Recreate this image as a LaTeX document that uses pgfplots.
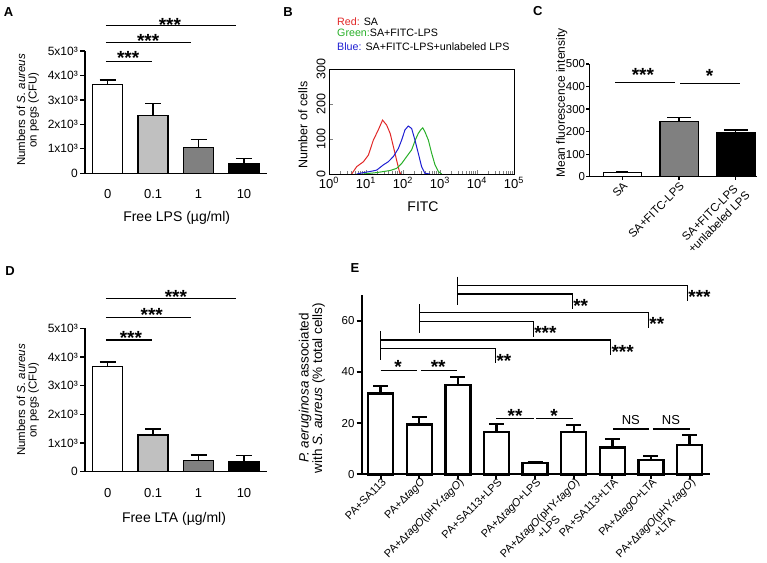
\documentclass[border=0pt]{standalone}
\usepackage{fontspec}
\setmainfont{Liberation Sans}
\usepackage{pgfplots}
\pgfplotsset{compat=1.18}

\definecolor{lgray}{RGB}{192,192,192}
\definecolor{mgray}{RGB}{128,128,128}
\definecolor{cred}{RGB}{225,40,40}
\definecolor{cgreen}{RGB}{40,175,40}
\definecolor{cblue}{RGB}{30,30,210}

\newcommand{\fs}[1]{\fontsize{#1}{#1}\selectfont}

\pgfplotsset{
  gp/.style={scale only axis, anchor=south west, axis lines=left,
    axis line style={-, line width=1.3pt}, tick style={black, line width=1.3pt},
    tick align=outside, major tick length=5pt, ymin=0, clip=false, ybar,
    enlargelimits=false, /pgf/number format/assume math mode=true},
  bar/.style 2 args={ybar, bar shift=0pt, draw=black, line width=#1,
    error bars/y dir=plus, error bars/y explicit, error bars/error mark=|,
    error bars/error bar style={line width=#1, black},
    error bars/error mark options={line width=#1, black, mark size=#2}},
}
\tikzset{
  st/.style={font=\bfseries\fs{19}, anchor=base, yshift=-10.5pt, inner sep=0pt},
  stw/.style={font=\bfseries\fs{19}, anchor=base west, yshift=-10.5pt, xshift=1pt, inner sep=0pt},
  sig/.style={line width=1.2pt},
}

\begin{document}
\begin{tikzpicture}[x=1pt,y=1pt]
\useasboundingbox (0,0) rectangle (767,562);

% ---------- A ----------
\begin{axis}[gp, at={(85pt,388.7pt)}, width=181.7pt, height=122.3pt,
  xmin=-0.5, xmax=3.5, ymax=5000, bar width=30pt,
  xtick={0,1,2,3}, xticklabels={0,0.1,1,10}, xtick style={draw=none},
  ytick={0,1000,2000,3000,4000,5000},
  yticklabels={0,1x10³,2x10³,3x10³,4x10³,5x10³},
  xticklabel style={font=\fs{13}, yshift=-8pt}, yticklabel style={font=\fs{12}, inner sep=2pt}]
\addplot[bar={1.3pt}{8pt}, fill=white] coordinates {(0,3635) +- (0,176)};
\addplot[bar={1.3pt}{8pt}, fill=lgray] coordinates {(1,2377) +- (0,480)};
\addplot[bar={1.3pt}{8pt}, fill=mgray] coordinates {(2,1053) +- (0,327)};
\addplot[bar={1.3pt}{8pt}, fill=black] coordinates {(3,397) +- (0,205)};
\draw[sig] (-0.04,6034) -- (2.83,6034);
\draw[sig] (-0.04,5356) -- (1.83,5356);
\draw[sig] (-0.04,4562) -- (0.97,4562);
\node[st] at (1.37,6227) {***};
\node[st] at (0.89,5572) {***};
\node[st] at (0.45,4878) {***};
\end{axis}

% ---------- D ----------
\begin{axis}[gp, at={(85pt,90.3pt)}, width=181.7pt, height=143.4pt,
  xmin=-0.5, xmax=3.5, ymax=5000, bar width=30pt,
  xtick={0,1,2,3}, xticklabels={0,0.1,1,10}, xtick style={draw=none},
  ytick={0,1000,2000,3000,4000,5000},
  yticklabels={0,1x10³,2x10³,3x10³,4x10³,5x10³},
  xticklabel style={font=\fs{13}, yshift=-8pt}, yticklabel style={font=\fs{12}, inner sep=2pt}]
\addplot[bar={1.3pt}{8pt}, fill=white] coordinates {(0,3662) +- (0,164)};
\addplot[bar={1.3pt}{8pt}, fill=lgray] coordinates {(1,1282) +- (0,209)};
\addplot[bar={1.3pt}{8pt}, fill=mgray] coordinates {(2,383) +- (0,199)};
\addplot[bar={1.3pt}{8pt}, fill=black] coordinates {(3,341) +- (0,220)};
\draw[sig] (-0.04,6046) -- (2.83,6046);
\draw[sig] (-0.04,5384) -- (1.83,5384);
\draw[sig] (-0.04,4592) -- (0.97,4592);
\node[st] at (1.5,6241) {***};
\node[st] at (0.97,5614) {***};
\node[st] at (0.51,4801) {***};
\end{axis}

% ---------- B ----------
\begin{axis}[scale only axis, anchor=south west, at={(329pt,388pt)},
  width=185pt, height=105pt, xmode=log, xmin=1, xmax=100000, ymin=0, ymax=300,
  enlargelimits=false, axis line style={line width=0.8pt}, tick pos=left,
  xtick={1,10,100,1000,10000,100000},
  xticklabels={10\textsuperscript{0},10\textsuperscript{1},10\textsuperscript{2},10\textsuperscript{3},10\textsuperscript{4},10\textsuperscript{5}},
  ytick={0,100,200,300},
  yticklabel style={rotate=90, anchor=south, font=\fs{12.5}},
  xticklabel style={font=\fs{13}},
  /pgf/number format/assume math mode=true]
\addplot[cred, line width=1pt] coordinates {
  (4.1,0) (5.6,21) (8.5,35) (11.6,54) (15.8,97) (21.5,126) (28,154) (36,140)
  (45,116) (55,78) (67,40) (80,7) (87,0)};
\addplot[cgreen, line width=1pt] coordinates {
  (8.5,0) (19.4,4) (45,10) (67,16) (92,30) (126,50) (171,69) (215,97) (259,116)
  (300,126) (341,132) (390,121) (484,97) (596,59) (733,26) (902,7) (1110,0)};
\addplot[cblue, line width=1pt] coordinates {
  (5.6,0) (8.5,4) (12.8,7) (19.4,11) (29.4,26) (40,35) (55,50) (75,73) (92,97)
  (113,126) (139,137) (171,130) (210,97) (259,59) (318,21) (390,2) (537,0)};
\end{axis}

% ---------- C ----------
\begin{axis}[gp, at={(589.3pt,385.3pt)}, width=167.4pt, height=112.7pt,
  xmin=-0.585, xmax=2.37, ymax=500, bar width=38.5pt, major tick length=3pt,
  xtick={0,1,2}, xticklabels={SA,SA+FITC-LPS,{SA+FITC-LPS\\+unlabeled LPS}},
  ytick={0,100,200,300,400,500},
  xticklabel style={rotate=45, anchor=north east, align=center,
    font=\fontsize{11.5}{13}\selectfont, inner sep=1pt},
  yticklabel style={font=\fs{11.5}, inner sep=1pt}]
\addplot[bar={1.3pt}{6pt}, fill=white] coordinates {(0,18) +- (0,3)};
\addplot[bar={1.3pt}{12pt}, fill=mgray] coordinates {(1,244) +- (0,19)};
\addplot[bar={1.3pt}{12pt}, fill=black] coordinates {(2,197) +- (0,10)};
\draw[sig] (-0.13,419) -- (0.93,419);
\draw[sig] (1.02,415) -- (2.07,415);
\node[st] at (0.36,470) {***};
\node[st] at (1.54,466) {*};
\end{axis}

% ---------- E ----------
\begin{axis}[gp, at={(361.7pt,87.7pt)}, width=348.3pt, height=179.2pt,
  axis line style={-, line width=2pt}, tick style={black, line width=2pt},
  major tick length=5pt, xmin=-0.49, xmax=8.53, ymax=70, bar width=25pt,
  xtick={0,1,2,3,4,5,6,7,8},
  xticklabels={PA+SA113, PA+Δ\textit{tagO}, PA+Δ\textit{tagO}(pHY-\textit{tagO}),
    PA+SA113+LPS, PA+Δ\textit{tagO}+LPS, {PA+Δ\textit{tagO}(pHY-\textit{tagO})\\+LPS},
    PA+SA113+LTA, PA+Δ\textit{tagO}+LTA, {PA+Δ\textit{tagO}(pHY-\textit{tagO})\\+LTA}},
  ytick={0,20,40,60},
  xticklabel style={rotate=45, anchor=north east, align=center,
    font=\fontsize{11}{12.5}\selectfont, inner sep=1pt, xshift=3pt, yshift=2pt},
  yticklabel style={font=\fs{11.5}, inner sep=2pt}]
\addplot[bar={2.4pt}{7.5pt}, fill=white] coordinates {(0,31.6) +- (0,2.9)};
\addplot[bar={2.4pt}{7.5pt}, fill=white] coordinates {(1,19.5) +- (0,3.0)};
\addplot[bar={2.4pt}{7.5pt}, fill=white] coordinates {(2,34.9) +- (0,3.2)};
\addplot[bar={2.4pt}{7.5pt}, fill=white] coordinates {(3,16.6) +- (0,3.0)};
\addplot[bar={2.4pt}{7.5pt}, fill=white] coordinates {(4,4.3) +- (0,0.6)};
\addplot[bar={2.4pt}{7.5pt}, fill=white] coordinates {(5,16.5) +- (0,2.8)};
\addplot[bar={2.4pt}{7.5pt}, fill=white] coordinates {(6,10.4) +- (0,3.3)};
\addplot[bar={2.4pt}{7.5pt}, fill=white] coordinates {(7,5.6) +- (0,1.5)};
\addplot[bar={2.4pt}{7.5pt}, fill=white] coordinates {(8,11.4) +- (0,3.9)};
% pairwise
\draw[sig] (0,40.7) -- (0.95,40.7);
\draw[sig] (1.04,40.7) -- (1.97,40.7);
\node[st] at (0.45,43.5) {*};
\node[st] at (1.49,43.5) {**};
\draw[sig] (3.0,21.9) -- (3.97,21.9);
\draw[sig] (4.02,21.9) -- (4.97,21.9);
\node[st] at (3.48,24.5) {**};
\node[st] at (4.49,24.5) {*};
\draw[sig] (6.03,17.7) -- (6.96,17.7);
\draw[sig] (7.05,17.7) -- (8.0,17.7);
\node[font=\fs{13}, inner sep=0pt] at (6.48,21.2) {NS};
\node[font=\fs{13}, inner sep=0pt] at (7.52,21.2) {NS};
% brackets
\draw[sig] (0,56.0) -- (0,44.7);
\draw[sig] (0,52.5) -- (5.95,52.5) -- (5.95,46.6);
\draw[sig] (0,49.1) -- (2.97,49.1) -- (2.97,43.4);
\node[stw] at (2.97,45.9) {**};
\node[stw] at (5.95,49.2) {***};
\draw[sig] (1,66.4) -- (1,55.1);
\draw[sig] (1,63.1) -- (6.93,63.1) -- (6.93,57.0);
\draw[sig] (1,59.8) -- (3.95,59.8) -- (3.95,53.8);
\node[stw] at (3.95,56.6) {***};
\node[stw] at (6.93,60.3) {**};
\draw[sig] (2,77.2) -- (2,66.1);
\draw[sig] (2,73.7) -- (7.94,73.7) -- (7.94,67.8);
\draw[sig] (2,70.4) -- (4.96,70.4) -- (4.96,64.6);
\node[stw] at (4.96,67.4) {**};
\node[stw] at (7.94,70.9) {***};
\end{axis}

% ---------- labels ----------
\node[rotate=90, align=center, font=\fs{11.5}] at (28,452)
  {\fontsize{11.5}{19}\selectfont Numbers of \textit{S. aureus}\\on pegs (CFU)};
\node[font=\fs{14}] at (176.7,343.7) {Free LPS (µg/ml)};
\node[rotate=90, align=center, font=\fs{11.5}] at (28,162)
  {\fontsize{11.5}{19}\selectfont Numbers of \textit{S. aureus}\\on pegs (CFU)};
\node[font=\fs{14}] at (174,43) {Free LTA (µg/ml)};
\node[rotate=90, font=\fs{12.5}] at (303,437) {Number of cells};
\node[font=\fs{14}] at (423,355) {FITC};
\node[anchor=west, font=\fs{10.7}, inner sep=0pt] at (337,540.3) {\textcolor{cred}{Red:} SA};
\node[anchor=west, font=\fs{10.7}, inner sep=0pt] at (337,528.7) {\textcolor{cgreen}{Green:}SA+FITC-LPS};
\node[anchor=west, font=\fs{10.7}, inner sep=0pt] at (337,515.3) {\textcolor{cblue}{Blue:} SA+FITC-LPS+unlabeled LPS};
\node[rotate=90, font=\fs{12}] at (561.7,459) {Mean fluorescence intensity};
\node[rotate=90, align=center, font=\fs{13.5}] at (311.8,174)
  {\fontsize{13.5}{15}\selectfont\textit{P. aeruginosa} associated\\with \textit{S. aureus} (\% total cells)};
\node[font=\bfseries\fs{13}] at (8.5,550) {A};
\node[font=\bfseries\fs{13}] at (288,550) {B};
\node[font=\bfseries\fs{13}] at (537.7,551) {C};
\node[font=\bfseries\fs{13}] at (10,291) {D};
\node[font=\bfseries\fs{13}] at (355,294) {E};
\end{tikzpicture}
\end{document}
